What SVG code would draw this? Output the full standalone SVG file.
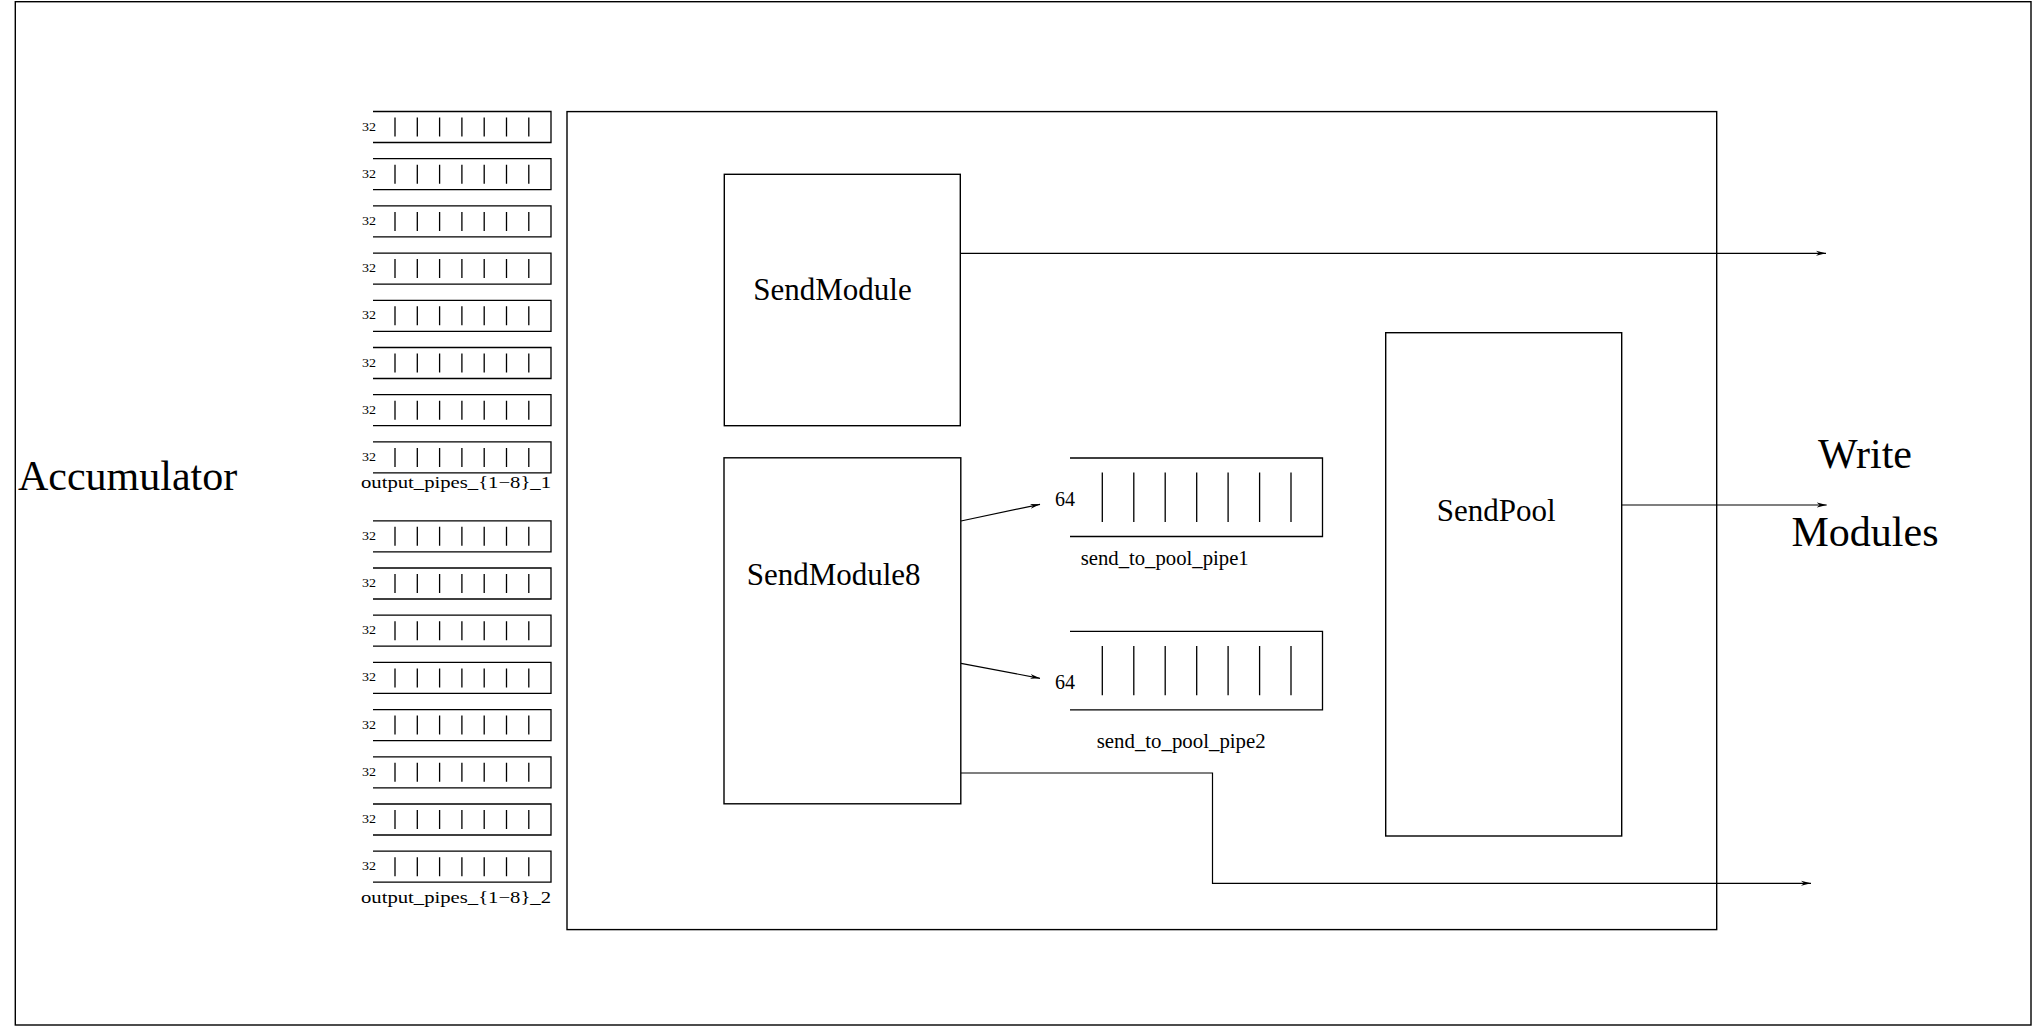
<svg xmlns="http://www.w3.org/2000/svg" xmlns:xlink="http://www.w3.org/1999/xlink" width="2033" height="1026" viewBox="0 0 2033 1026">
<style>
.box{fill:none;stroke:#000;stroke-width:1.4}
.pipe{fill:none;stroke:#000;stroke-width:1.3}
.conn{fill:none;stroke:#000;stroke-width:1.2}
.t{font-family:"Liberation Serif","Times New Roman",serif;fill:#000}
.big{font-size:42px}
.mid{font-size:31px}
.lbl{font-size:17px}
.num{font-size:13px}
.n64{font-size:20px}
</style>
<defs>
<marker id="arr" viewBox="0 0 10 6" refX="10" refY="3" markerWidth="10" markerHeight="6" markerUnits="userSpaceOnUse" orient="auto">
<path d="M0,0.5 L10,3 L0,5.5 L3,3 z" fill="#000"/>
</marker>
<g id="smallpipe">
<path class="pipe" d="M373,0 H551 V31 H373 M395,6 V25 M417.3,6 V25 M439.6,6 V25 M461.9,6 V25 M484.2,6 V25 M506.5,6 V25 M528.8,6 V25"/>
<text class="t num" x="362" y="19" textLength="14" lengthAdjust="spacingAndGlyphs">32</text>
</g>
<path id="bigpipe" class="pipe" d="M1070,0 H1322.5 V78.5 H1070 M1102.3,14.6 V64 M1133.8,14.6 V64 M1165.2,14.6 V64 M1196.7,14.6 V64 M1228.1,14.6 V64 M1259.6,14.6 V64 M1291,14.6 V64"/>
</defs>
<rect id="frame" x="15.3" y="1.7" width="2015.7" height="1023.3" class="box"/>
<g id="accumulator"><text class="t big" x="18" y="490">Accumulator</text></g>
<g id="write-modules">
<text class="t big" x="1865" y="468" text-anchor="middle">Write</text>
<text class="t big" x="1865" y="546" text-anchor="middle">Modules</text>
</g>
<g id="output-pipes-1">
<use xlink:href="#smallpipe" y="111.5"/>
<use xlink:href="#smallpipe" y="158.7"/>
<use xlink:href="#smallpipe" y="205.9"/>
<use xlink:href="#smallpipe" y="253.1"/>
<use xlink:href="#smallpipe" y="300.3"/>
<use xlink:href="#smallpipe" y="347.5"/>
<use xlink:href="#smallpipe" y="394.7"/>
<use xlink:href="#smallpipe" y="441.9"/>
<text class="t lbl" x="361" y="488" textLength="190" lengthAdjust="spacingAndGlyphs">output_pipes_{1−8}_1</text>
</g>
<g id="output-pipes-2">
<use xlink:href="#smallpipe" y="520.8"/>
<use xlink:href="#smallpipe" y="568"/>
<use xlink:href="#smallpipe" y="615.2"/>
<use xlink:href="#smallpipe" y="662.4"/>
<use xlink:href="#smallpipe" y="709.6"/>
<use xlink:href="#smallpipe" y="756.8"/>
<use xlink:href="#smallpipe" y="804"/>
<use xlink:href="#smallpipe" y="851.2"/>
<text class="t lbl" x="361" y="903" textLength="190" lengthAdjust="spacingAndGlyphs">output_pipes_{1−8}_2</text>
</g>
<g id="container"><rect x="567" y="111.6" width="1149.7" height="818" class="box"/></g>
<g id="sendmodule">
<rect x="724.3" y="174.3" width="236" height="251.4" class="box"/>
<text class="t mid" x="753.3" y="300">SendModule</text>
</g>
<g id="sendmodule8">
<rect x="724" y="457.8" width="236.8" height="346" class="box"/>
<text class="t mid" x="746.7" y="585">SendModule8</text>
</g>
<g id="send-to-pool-pipe1">
<use xlink:href="#bigpipe" y="458"/>
<text class="t n64" x="1055" y="505.7">64</text>
<text class="t n64" x="1080.7" y="565" textLength="168" lengthAdjust="spacingAndGlyphs">send_to_pool_pipe1</text>
</g>
<g id="send-to-pool-pipe2">
<use xlink:href="#bigpipe" y="631.3"/>
<text class="t n64" x="1055" y="689.3">64</text>
<text class="t n64" x="1096.7" y="748.3" textLength="169" lengthAdjust="spacingAndGlyphs">send_to_pool_pipe2</text>
</g>
<g id="sendpool">
<rect x="1385.7" y="332.7" width="236" height="503.3" class="box"/>
<text class="t mid" x="1436.7" y="521">SendPool</text>
</g>
<g id="connectors">
<path class="conn" d="M960.3,253.3 H1826" marker-end="url(#arr)"/>
<path class="conn" d="M961,521 L1040,504.3" marker-end="url(#arr)"/>
<path class="conn" d="M961,663.3 L1040,678.3" marker-end="url(#arr)"/>
<path class="conn" d="M1621.7,505 H1826.7" marker-end="url(#arr)"/>
<path class="conn" d="M961,773 H1212.5 V883.3 H1811" marker-end="url(#arr)"/>
</g>
</svg>
